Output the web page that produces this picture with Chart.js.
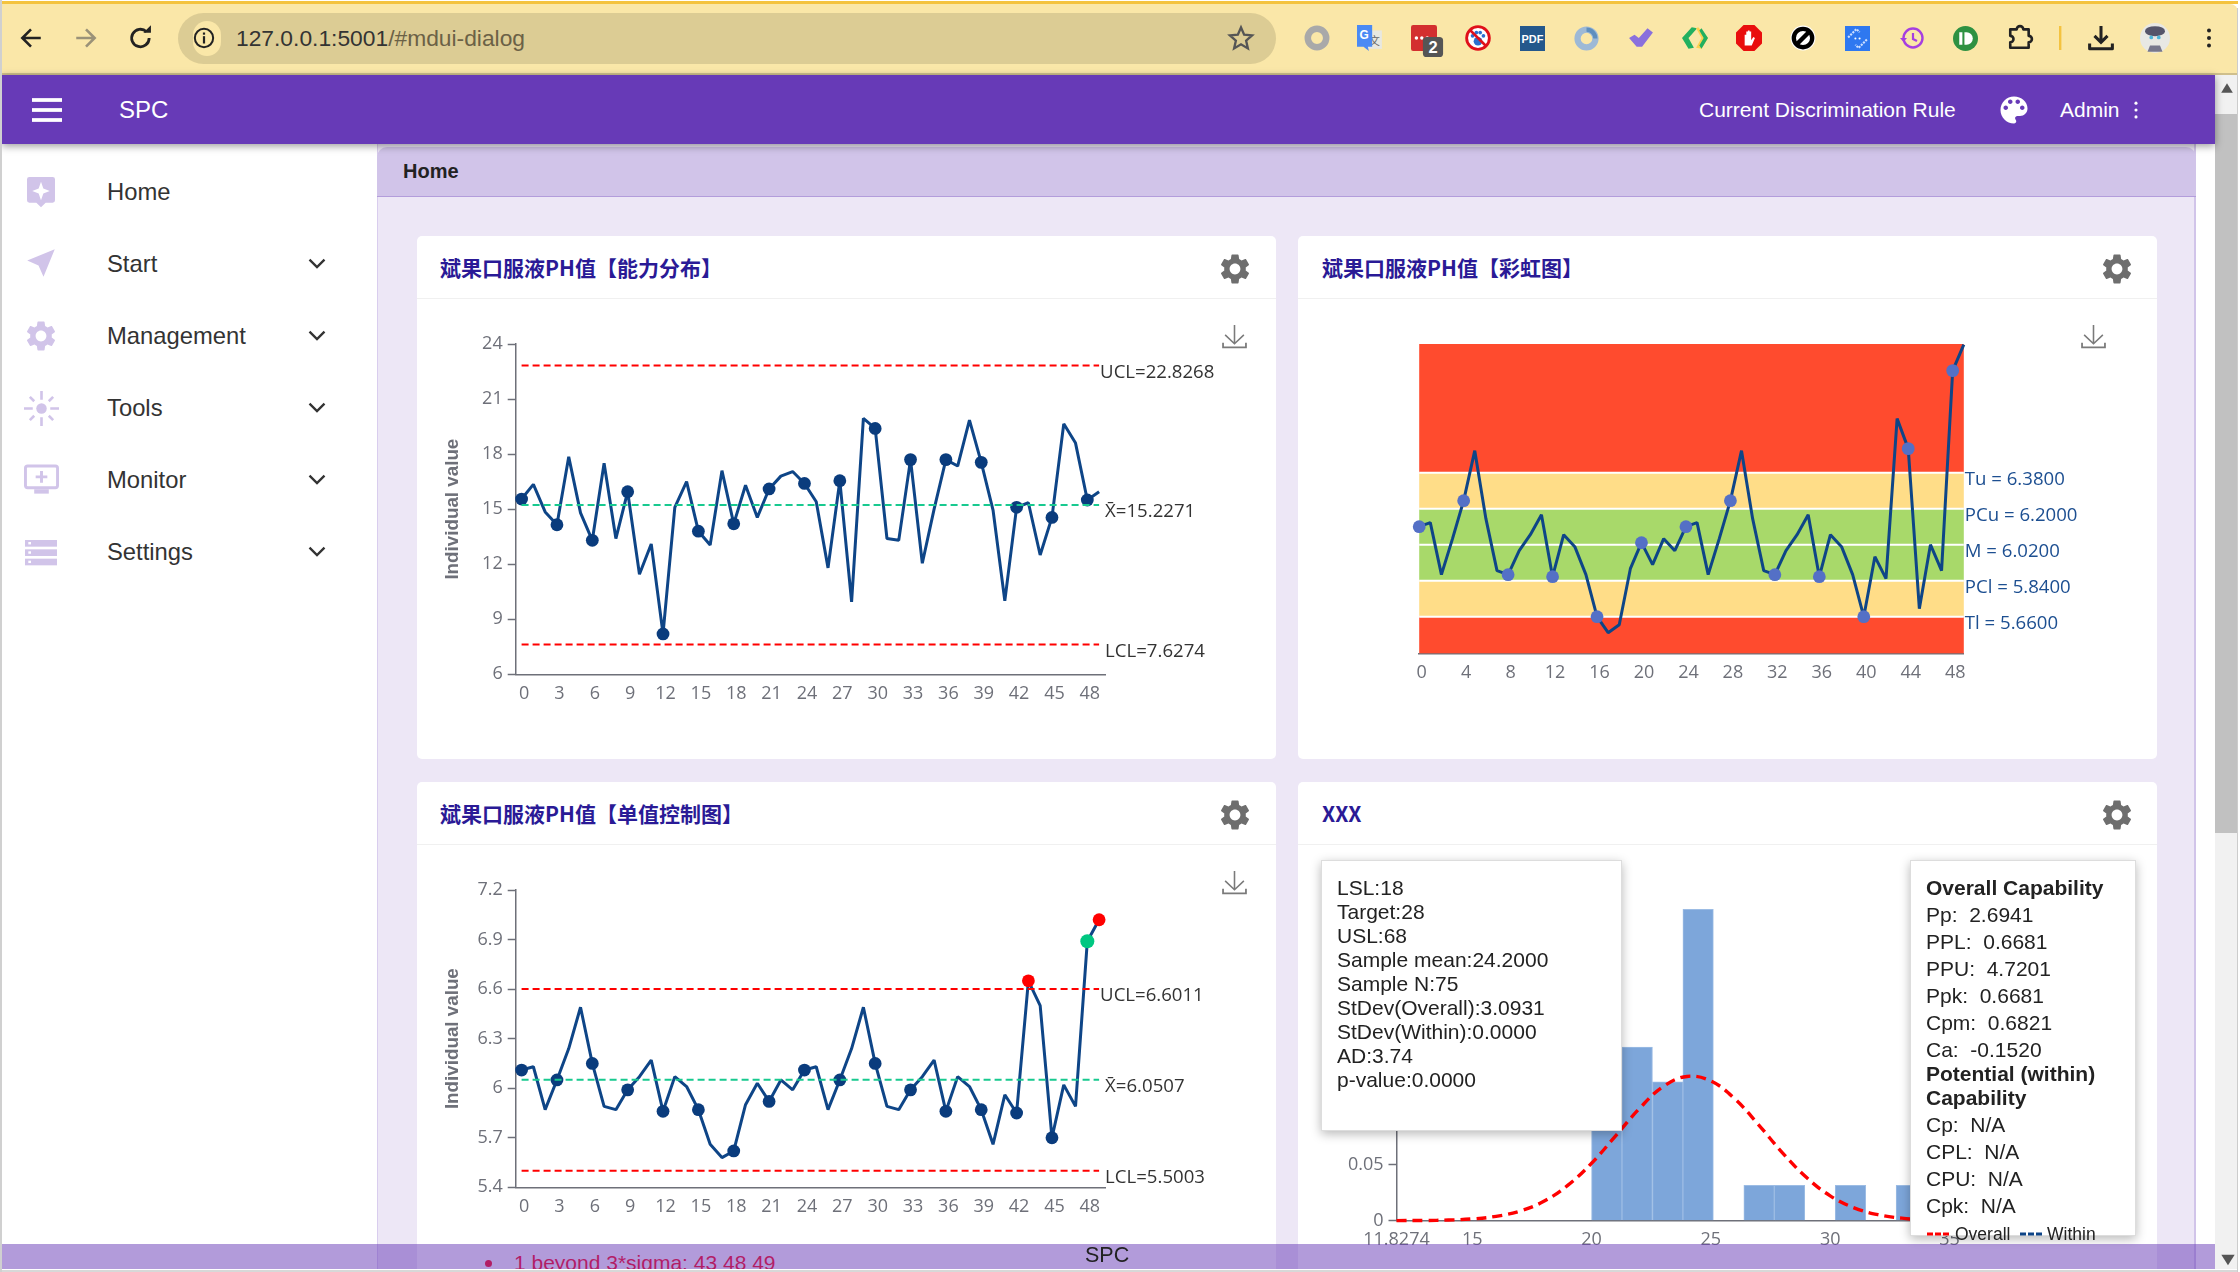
<!DOCTYPE html>
<html><head><meta charset="utf-8"><title>SPC</title>
<script src="https://cdn.jsdelivr.net/npm/chart.js@4"></script>
<style>
html,body{margin:0;padding:0;background:#fff;width:2240px;height:1272px;overflow:hidden;font-family:"Liberation Sans",Arial,sans-serif}
.abs,.abs *{box-sizing:border-box}
.abs{position:absolute}
#win{position:absolute;left:0;top:0;width:2240px;height:1269px;overflow:hidden;background:#fff}
#edgeL{position:absolute;left:0;top:0;width:2px;height:1272px;background:#d0d0d0;z-index:20}
#edgeB{position:absolute;left:0;top:1270px;width:2238px;height:2px;background:#d8d8d8}
#edgeR{position:absolute;left:2237px;top:8px;width:1px;height:1264px;background:#ccc;z-index:20}
#stripe{left:2px;top:1px;width:2236px;height:3px;background:#F4C33F}
#tool{left:2px;top:4px;width:2236px;height:69px;background:#FAE7A8;border-top-right-radius:8px}
#toolb{left:2px;top:73px;width:2236px;height:2px;background:#CFBF8C}
#addr{left:178px;top:13px;width:1098px;height:51px;border-radius:26px;background:#DCCC94}
#inf{left:193px;top:21px;width:28px;height:35px;border-radius:18px;background:#FAE7A8}
#url{left:236px;top:24px;font-size:22.8px;line-height:28px;color:#333;white-space:nowrap}
#url span{color:#6b6146}
#bar{left:2px;top:75px;width:2213px;height:69px;background:#673AB7;box-shadow:0 2px 8px rgba(0,0,0,.4);z-index:6;color:#fff}
.bt{position:absolute;top:20px;font-size:21px;line-height:30px;white-space:nowrap}
#side{left:2px;top:144px;width:375px;height:1125px;background:#fff}
.nv{position:absolute;left:105px;font-size:23.8px;line-height:30px;color:#333;white-space:nowrap}
#main{left:377px;top:144px;width:1819px;height:1125px;background:#EDE7F6;border-left:1px solid #D9CDEE;border-right:2px solid #D1C4E9}
#hd{left:377px;top:147px;width:1819px;height:50px;background:#D1C4E9;border-radius:10px 10px 0 0;border-bottom:1px solid #B39DDB}
#hd span{position:absolute;left:26px;top:11px;font-size:20px;line-height:26px;font-weight:bold;color:#222}
.card{background:#fff;border-radius:5px}
.ttl{position:absolute;left:23px;top:17px;font:bold 21px/28px "Noto Sans CJK SC","Liberation Sans",sans-serif;color:#2A1A96;white-space:nowrap}
.dvd{position:absolute;left:0;right:0;top:62px;height:1px;background:#f0f0f0}
canvas{position:absolute;display:block}
.panel{position:absolute;background:#fff;border:1px solid #ddd;box-shadow:0 3px 10px rgba(0,0,0,.28);z-index:3;color:#222;font-size:21px}
.panel div{position:absolute;white-space:nowrap;line-height:24px}
#foot{left:0;top:1244px;width:2215px;height:25px;background:rgba(103,58,183,.51);z-index:5}
#foot span{position:absolute;left:1085px;top:-2px;font-size:21.5px;line-height:26px;color:#222}
#sigma{left:514px;top:1250px;font-size:21px;line-height:26px;color:#FF0010;white-space:nowrap;z-index:2}
#bul{left:485px;top:1260px;width:7px;height:7px;border-radius:50%;background:#FF0010;z-index:2}
#track{left:2215px;top:75px;width:22px;height:1194px;background:#F1F1F1}
#thumb{left:2215px;top:114px;width:22px;height:719px;background:#C1C1C1}
.leg{position:absolute;top:1224px;height:20px;font-size:17.5px;line-height:20px;color:#222;white-space:nowrap;z-index:4}
svg.ic{position:absolute;overflow:visible}
</style></head>
<body>
<div id="win">
  <div class="abs" id="stripe"></div><div class="abs" id="tool"></div><div class="abs" id="toolb"></div>
  <div class="abs" id="addr"></div><div class="abs" id="inf"></div>
  <div class="abs" id="url">127.0.0.1:5001<span>/#mdui-dialog</span></div>

  <div class="abs" id="side">
    <div class="nv" style="top:33px">Home</div><div class="nv" style="top:105px">Start</div>
    <div class="nv" style="top:177px">Management</div><div class="nv" style="top:249px">Tools</div>
    <div class="nv" style="top:321px">Monitor</div><div class="nv" style="top:393px">Settings</div>
  </div>
  <div class="abs" id="main"></div>
  <div class="abs" id="hd"><span>Home</span></div>

  <div class="abs card" style="left:417px;top:236px;width:859px;height:523px"><div class="ttl">斌果口服液PH值【能力分布】</div><div class="dvd"></div></div>
  <div class="abs card" style="left:1298px;top:236px;width:859px;height:523px"><div class="ttl" style="left:24px">斌果口服液PH值【彩虹图】</div><div class="dvd"></div></div>
  <div class="abs card" style="left:417px;top:782px;width:859px;height:520px"><div class="ttl">斌果口服液PH值【单值控制图】</div><div class="dvd"></div></div>
  <div class="abs card" style="left:1298px;top:782px;width:859px;height:520px"><div class="ttl" style="left:24px">XXX</div><div class="dvd"></div></div>

  <canvas id="c1" width="800" height="400" style="left:430px;top:320px"></canvas>
  <canvas id="c2" width="720" height="380" style="left:1380px;top:320px"></canvas>
  <canvas id="c3" width="800" height="360" style="left:430px;top:866px"></canvas>
  <canvas id="c4" width="760" height="400" style="left:1300px;top:850px"></canvas>

  <div class="abs" id="bul"></div>
  <div class="abs" id="sigma">1 beyond 3*sigma: 43 48 49</div>

  <div class="panel" style="left:1321px;top:860px;width:299px;height:269px">
    <div style="left:15px;top:15px">LSL:18</div><div style="left:15px;top:39px">Target:28</div>
    <div style="left:15px;top:63px">USL:68</div><div style="left:15px;top:87px">Sample mean:24.2000</div>
    <div style="left:15px;top:111px">Sample N:75</div><div style="left:15px;top:135px">StDev(Overall):3.0931</div>
    <div style="left:15px;top:159px">StDev(Within):0.0000</div><div style="left:15px;top:183px">AD:3.74</div>
    <div style="left:15px;top:207px">p-value:0.0000</div>
  </div>
  <div class="panel" style="left:1910px;top:860px;width:224px;height:374px">
    <div style="left:15px;top:15px"><b>Overall Capability</b></div>
    <div style="left:15px;top:42px">Pp:&nbsp; 2.6941</div><div style="left:15px;top:69px">PPL:&nbsp; 0.6681</div>
    <div style="left:15px;top:96px">PPU:&nbsp; 4.7201</div><div style="left:15px;top:123px">Ppk:&nbsp; 0.6681</div>
    <div style="left:15px;top:150px">Cpm:&nbsp; 0.6821</div><div style="left:15px;top:177px">Ca:&nbsp; -0.1520</div>
    <div style="left:15px;top:201px"><b>Potential (within)</b></div><div style="left:15px;top:225px"><b>Capability</b></div>
    <div style="left:15px;top:252px">Cp:&nbsp; N/A</div><div style="left:15px;top:279px">CPL:&nbsp; N/A</div>
    <div style="left:15px;top:306px">CPU:&nbsp; N/A</div><div style="left:15px;top:333px">Cpk:&nbsp; N/A</div>
  </div>
  <div class="leg" style="left:1955px">Overall</div>
  <div class="leg" style="left:2047px">Within</div>
  <svg class="ic" style="left:1927px;top:1232px;z-index:4" width="116" height="4"><line x1="0" y1="2" x2="23" y2="2" stroke="#f00" stroke-width="3" stroke-dasharray="6 2"/><line x1="93" y1="2" x2="115" y2="2" stroke="#0E4587" stroke-width="3" stroke-dasharray="6 2"/></svg>

  <div class="abs" id="foot"><span>SPC</span></div>
  <div class="abs" id="track"></div><div class="abs" id="thumb"></div>

  <div class="abs" id="bar">
    <div class="bt" style="left:117px;font-size:24px">SPC</div>
    <div class="bt" style="left:1697px">Current Discrimination Rule</div>
    <div class="bt" style="left:2058px">Admin</div>
  </div>
  <div id="icons"></div>
</div>
<div id="edgeL"></div><div id="edgeB"></div><div id="edgeR"></div>

<script>
// ---------- chart data ----------
const categories = ['0','1','2','3','4','5','6','7','8','9','10','11','12','13','14','15','16','17','18','19','20','21','22','23','24','25','26','27','28','29','30','31','32','33','34','35','36','37','38','39','40','41','42','43','44','45','46','47','48','49'];

const capabilityValues = [15.55,16.35,14.85,14.15,17.85,14.8,13.3,17.5,13.4,15.95,11.45,13.1,8.2,15.1,16.5,13.8,13.05,17.1,14.2,16.3,14.55,16.1,16.8,17.05,16.4,15.4,11.8,16.55,9.95,19.95,19.4,13.4,13.3,17.7,12.05,15.0,17.7,17.35,19.85,17.55,14.95,10.0,15.1,15.35,12.5,14.55,19.65,18.6,15.5,15.95];
const capabilityLimits = {ucl:22.8268, mean:15.2271, lcl:7.6274};

const individualValues = [6.11,6.13,5.87,6.05,6.24,6.49,6.15,5.89,5.87,5.99,6.07,6.17,5.86,6.07,6.01,5.87,5.66,5.58,5.62,5.90,6.03,5.92,6.05,5.99,6.11,6.13,5.87,6.05,6.24,6.49,6.15,5.89,5.87,5.99,6.07,6.17,5.86,6.07,6.01,5.87,5.66,5.96,5.85,6.65,6.50,5.70,6.02,5.89,6.89,7.02];
const individualLimits = {ucl:6.6011, mean:6.0507, lcl:5.5003};
const alarmRed = [43,49];
const alarmGreen = [48];

const rainbowLimits = {Tl:5.66, PCl:5.84, M:6.02, PCu:6.2, Tu:6.38};
const rainbowLabels = ['Tu = 6.3800','PCu = 6.2000','M = 6.0200','PCl = 5.8400','Tl = 5.6600'];
const rainbowRange = [5.477,7.023];

const histCenters = [20.638,21.914,23.19,24.466,27.02,28.296,30.848,33.4];
const histDensity = [0.094,0.155,0.124,0.278,0.0315,0.0315,0.0315,0.0315];
const curveX = [11.8274,13,14,15,16,17,18,19,20,21,22,23,24,25,26,27,28,29,30,31,32,33,34,35,36,36.57];
const curveY = [0.0001,0.0002,0.0006,0.0016,0.0039,0.0086,0.0173,0.0315,0.0513,0.0755,0.100,0.1197,0.1288,0.1247,0.1089,0.0856,0.0606,0.0387,0.0222,0.0115,0.0054,0.00225,0.00085,0.0003,0.0001,0.00006];
const histTicks = [11.8274,15,20,25,30,35];

// ---------- style ----------
const NAVY='#0E4587', DOT='#0A3C7D', AX='#6E7079', RED='#FF0000', TEAL='#18C98F', TXT='#333333';
const LAB='18.6px "Open Sans"';
Chart.defaults.font.family='"Open Sans"';
Chart.defaults.animation=false;
Chart.defaults.devicePixelRatio=1;

function fit(canvasEl,plot){
  const r=canvasEl.getBoundingClientRect();
  return {
    pad:{left:0,top:plot.t-r.top,right:r.right-plot.r,bottom:0},
    yw:plot.l-r.left, xh:r.bottom-plot.b, leftPad:plot.l-r.left
  };
}
const xAxis=(f,every,labelOff)=>({
  type:'category',offset:true,
  afterFit:s=>{s.height=f.xh},
  border:{display:true,color:AX,width:1.5},
  grid:{display:true,drawOnChartArea:false,drawTicks:false},
  ticks:{autoSkip:false,maxRotation:0,minRotation:0,padding:9,labelOffset:labelOff,color:AX,font:{family:'"Open Sans"',size:18},
    callback(v,i){return i%every===0?this.getLabelForValue(v):''}}
});
const yAxis=(f,min,max,step)=>({
  min,max,
  afterFit:s=>{s.width=f.yw},
  afterBuildTicks:s=>{ const t=[]; const n=Math.round((max-min)/step); for(let i=0;i<=n;i++)t.push({value:+(min+i*step).toFixed(4)}); s.ticks=t; },
  border:{display:true,color:AX,width:1.5},
  grid:{display:true,drawOnChartArea:false,drawTicks:true,tickLength:8,tickColor:AX,tickWidth:1.5},
  ticks:{padding:5,color:AX,font:{family:'"Open Sans"',size:18},callback:v=>String(+(+v).toFixed(2))},
  title:{display:true,text:'Individual value',color:AX,font:{family:'"Liberation Sans"',size:18.8,weight:'bold'},padding:{top:12,bottom:0}}
});
const ref=(c,v)=>({type:'line',data:[{x:categories[0],y:v},{x:categories[49],y:v}],borderColor:c,borderWidth:2,borderDash:[7,4],pointRadius:0,fill:false,clip:false,tension:0});

const limitLabels={
  id:'limitLabels',
  afterDatasetsDraw(ch,a,o){
    const c=ch.ctx,x=ch.scales.x,y=ch.scales.y,xe=x.getPixelForValue(49);
    c.save();c.font=LAB;c.fillStyle=TXT;c.textBaseline='middle';c.textAlign='left';
    o.items.forEach(it=>{c.fillText(it.text,xe+(it.wide?6:1),y.getPixelForValue(it.value)+7)});
    c.restore();
  }
};

function spcChart(id,plot,vals,lim,yr,step,colorFn){
  const el=document.getElementById(id),f=fit(el,plot);
  new Chart(el,{
    type:'line',
    data:{labels:categories,datasets:[
      ref(RED,lim.ucl),ref(TEAL,lim.mean),ref(RED,lim.lcl),
      {data:vals,borderColor:NAVY,borderWidth:3,borderJoinStyle:'bevel',tension:0,clip:false,
       pointRadius:c=>id==='c3'&&alarmGreen.includes(c.dataIndex)?7:(c.dataIndex%3===0||alarmOf(id,c.dataIndex)?6.4:0),
       pointBorderWidth:0,pointBackgroundColor:c=>colorFn(c.dataIndex)}
    ]},
    plugins:[limitLabels],
    options:{responsive:false,animation:false,layout:{padding:f.pad},
      plugins:{legend:{display:false},tooltip:{enabled:false},
        limitLabels:{items:[{text:'UCL='+lim.ucl.toFixed(4),value:lim.ucl,wide:false},{text:'X\u0304='+lim.mean.toFixed(4),value:lim.mean,wide:true},{text:'LCL='+lim.lcl.toFixed(4),value:lim.lcl,wide:true}]}},
      scales:{x:xAxis(f,3,2.5),y:yAxis(f,yr[0],yr[1],step)}}
  });
}
const alarmOf=(id,i)=>id==='c3'&&(alarmRed.includes(i)||alarmGreen.includes(i));

spcChart('c1',{l:515.7,r:1105,t:344,b:674.3},capabilityValues,capabilityLimits,[6,24],3,()=>DOT);
spcChart('c3',{l:515.7,r:1105,t:890,b:1187.3},individualValues,individualLimits,[5.4,7.2],0.3,
  i=>alarmRed.includes(i)?'#FF0000':alarmGreen.includes(i)?'#00C781':DOT);

// rainbow chart
const bandPlugin={
  id:'bands',
  beforeDatasetsDraw(ch){
    const c=ch.ctx,y=ch.scales.y,a=ch.chartArea,L=rainbowLimits;
    const edges=[rainbowRange[1],L.Tu,L.PCu,L.PCl,L.Tl,rainbowRange[0]];
    const cols=['#FF4B2E','#FFDD88','#A8D96A','#FFDD88','#FF4B2E'];
    c.save();
    cols.forEach((col,i)=>{const t=y.getPixelForValue(edges[i]),b=y.getPixelForValue(edges[i+1]);c.fillStyle=col;c.fillRect(a.left,t,a.right-a.left,b-t)});
    c.strokeStyle='#fff';c.lineWidth=2;
    [L.Tu,L.PCu,L.M,L.PCl,L.Tl].forEach(v=>{const p=y.getPixelForValue(v);c.beginPath();c.moveTo(a.left,p);c.lineTo(a.right,p);c.stroke()});
    c.restore();
  },
  afterDatasetsDraw(ch){
    const c=ch.ctx,y=ch.scales.y,a=ch.chartArea,L=rainbowLimits;
    c.save();c.font=LAB;c.fillStyle='#1D4F91';c.textBaseline='middle';
    [L.Tu,L.PCu,L.M,L.PCl,L.Tl].forEach((v,i)=>c.fillText(rainbowLabels[i],a.right+1,y.getPixelForValue(v)+7));
    c.restore();
  }
};
(function(){
  const el=document.getElementById('c2'),plot={l:1419.2,r:1963.8,t:344,b:653.3},f=fit(el,plot);
  const xa=xAxis(f,4,2.5);xa.offset=false;
  new Chart(el,{type:'line',
    data:{labels:categories,datasets:[{data:individualValues,borderColor:NAVY,borderWidth:3,borderJoinStyle:'bevel',tension:0,clip:false,
      pointRadius:c=>c.dataIndex%4===0?6.4:0,pointBorderWidth:0,pointBackgroundColor:'#5470C6'}]},
    plugins:[bandPlugin],
    options:{responsive:false,animation:false,
      layout:{padding:{left:f.leftPad,top:f.pad.top,right:f.pad.right,bottom:0}},
      plugins:{legend:{display:false},tooltip:{enabled:false}},
      scales:{x:xa,y:{display:false,min:rainbowRange[0],max:rainbowRange[1]}}}
  });
})();

// histogram
(function(){
  const el=document.getElementById('c4'),plot={l:1396.5,r:1987,t:884.7,b:1220.7},f=fit(el,plot);
  new Chart(el,{type:'bar',
    data:{datasets:[
      {type:'line',data:curveX.map((x,i)=>({x,y:curveY[i]})),borderColor:'#FF0000',borderWidth:3.4,borderDash:[10,6],pointRadius:0,tension:0.4,clip:false,order:0},
      {type:'bar',data:histCenters.map((x,i)=>({x,y:histDensity[i]})),backgroundColor:'#7DA6DA',borderColor:'#9CBCE4',borderWidth:1,barPercentage:1,categoryPercentage:1,order:1}
    ]},
    options:{responsive:false,animation:false,layout:{padding:f.pad},
      plugins:{legend:{display:false},tooltip:{enabled:false}},
      scales:{
        x:{type:'linear',offset:false,min:histTicks[0],max:36.57,
          afterFit:s=>{s.height=f.xh},
          afterBuildTicks:s=>{s.ticks=histTicks.map(value=>({value}))},
          border:{display:true,color:AX,width:1.5},
          grid:{display:true,drawOnChartArea:false,drawTicks:false,offset:false},
          ticks:{autoSkip:false,maxRotation:0,minRotation:0,padding:8,color:AX,font:{family:'"Open Sans"',size:18},callback:v=>String(v)}},
        y:{min:0,max:0.3,
          afterFit:s=>{s.width=f.yw},
          afterBuildTicks:s=>{s.ticks=[0,0.05,0.1,0.15,0.2,0.25,0.3].map(value=>({value}))},
          border:{display:true,color:AX,width:1.5},
          grid:{display:true,drawOnChartArea:false,drawTicks:true,tickLength:8,tickColor:AX,tickWidth:1.5},
          ticks:{padding:5,color:AX,font:{family:'"Open Sans"',size:18},callback:v=>String(v)}}
      }}
  });
})();

// ---------- page chrome icons ----------
const GEAR='M19.14 12.94c.04-.3.06-.61.06-.94 0-.32-.02-.64-.07-.94l2.03-1.58c.18-.14.23-.41.12-.61l-1.92-3.32c-.12-.22-.37-.29-.59-.22l-2.39.96c-.5-.38-1.03-.7-1.62-.94l-.36-2.54c-.04-.24-.24-.41-.48-.41h-3.84c-.24 0-.43.17-.47.41l-.36 2.54c-.59.24-1.13.57-1.62.94l-2.39-.96c-.22-.08-.47 0-.59.22L2.74 8.87c-.12.21-.08.47.12.61l2.03 1.58c-.05.3-.09.63-.09.94s.02.64.07.94l-2.03 1.58c-.18.14-.23.41-.12.61l1.92 3.32c.12.22.37.29.59.22l2.39-.96c.5.38 1.03.7 1.62.94l.36 2.54c.05.24.24.41.48.41h3.84c.24 0 .44-.17.47-.41l.36-2.54c.59-.24 1.13-.56 1.62-.94l2.39.96c.22.08.47 0 .59-.22l1.92-3.32c.12-.22.07-.47-.12-.61l-2.01-1.58zM12 15.6c-1.98 0-3.6-1.62-3.6-3.6s1.62-3.6 3.6-3.6 3.6 1.62 3.6 3.6-1.62 3.6-3.6 3.6z';
const PALETTE='M12 3c-4.97 0-9 4.03-9 9s4.03 9 9 9c.83 0 1.5-.67 1.5-1.5 0-.39-.15-.74-.39-1.01-.23-.26-.38-.61-.38-.99 0-.83.67-1.5 1.5-1.5H16c2.76 0 5-2.24 5-5 0-4.42-4.03-8-9-8zm-5.5 9c-.83 0-1.5-.67-1.5-1.5S5.67 9 6.5 9 8 9.67 8 10.5 7.33 12 6.5 12zm3-4C8.67 8 8 7.33 8 6.5S8.67 5 9.5 5s1.5.67 1.5 1.5S10.33 8 9.5 8zm5 0c-.83 0-1.5-.67-1.5-1.5S13.67 5 14.5 5s1.5.67 1.5 1.5S15.33 8 14.5 8zm3 4c-.83 0-1.5-.67-1.5-1.5S16.67 9 17.5 9s1.5.67 1.5 1.5-.67 1.5-1.5 1.5z';
const dl='<path d="M12 1v18M3 10.5l9 8.5 9-8.5" fill="none" stroke="#7a7a7a" stroke-width="1.5"/><path d="M1 18v4.5h22V18" fill="none" stroke="#7a7a7a" stroke-width="1.7"/>';
const chev='<path d="M3 8l9 9 9-9" fill="none" stroke="#333" stroke-width="2.8"/>';
const L='#D1C4E9';
const icons=[
 // nav
 [31,38,26,'<path d="M21 12H5M12 4l-8 8 8 8" fill="none" stroke="#222" stroke-width="2.4"/>'],
 [86,38,26,'<path d="M3 12h16M12 4l8 8-8 8" fill="none" stroke="#9a9278" stroke-width="2.4"/>'],
 [141,38,28,'<path d="M19 12a7.5 7.5 0 1 1-2.3-5.4" fill="none" stroke="#222" stroke-width="2.4"/><path d="M14 7.5h6.5V1z" fill="#222"/>'],
 [204,38,22,'<circle cx="12" cy="12" r="10" fill="none" stroke="#222" stroke-width="2.2"/><rect x="10.8" y="10" width="2.4" height="8" fill="#222"/><rect x="10.8" y="6" width="2.4" height="2.4" fill="#222"/>'],
 [1241,38,28,'<path d="M12 3l2.7 6.2 6.8.6-5.1 4.5 1.5 6.6L12 17.4 6.1 20.9l1.5-6.6L2.5 9.8l6.8-.6z" fill="none" stroke="#555" stroke-width="2"/>'],
 // extensions
 [1316.7,38,26,'<circle cx="12" cy="12" r="8.5" fill="none" stroke="#A9A9A9" stroke-width="6"/>'],
 [1370,38,26,'<rect x="10" y="5" width="13" height="17" fill="#E8E8E0"/><text x="16" y="18" font-size="10" fill="#666" text-anchor="middle" font-family="Noto Sans CJK SC">文</text><path d="M0 0h14v20h-4l1 4-5-4H0z" fill="#4A8AF4"/><text x="6.5" y="13" font-size="11" font-weight="bold" fill="#fff" text-anchor="middle">G</text>'],
 [1424,38,26,'<rect x="0" y="0" width="24" height="24" rx="2" fill="#D32F2F"/><circle cx="5" cy="12" r="1.6" fill="#fff"/><circle cx="10" cy="12" r="1.6" fill="#fff"/><circle cx="15" cy="12" r="1.6" fill="#fff"/>'],
 [1433,47,22,'<rect x="1" y="1" width="22" height="22" rx="4" fill="#555"/><text x="12" y="19" font-size="18" font-weight="bold" fill="#fff" text-anchor="middle" font-family="Liberation Sans">2</text>'],
 [1478,38,26,'<circle cx="12" cy="12" r="10.5" fill="#fff" stroke="#E0101A" stroke-width="2.6"/><circle cx="12" cy="15" r="4" fill="#2A6FD0"/><circle cx="7" cy="10" r="1.7" fill="#2A6FD0"/><circle cx="10.5" cy="7" r="1.7" fill="#2A6FD0"/><circle cx="14" cy="7" r="1.7" fill="#2A6FD0"/><circle cx="17" cy="10" r="1.7" fill="#2A6FD0"/><path d="M4.5 4.5l15 15" stroke="#E0101A" stroke-width="2.6"/>'],
 [1532,38,25,'<rect width="24" height="24" fill="#24588C"/><text x="12" y="16.5" font-size="10.5" font-weight="bold" fill="#fff" text-anchor="middle" font-family="Liberation Sans">PDF</text>'],
 [1586.7,38,25,'<circle cx="12" cy="12" r="8.6" fill="none" stroke="#9DB9D6" stroke-width="6"/><path d="M12 3.5a8.5 8.5 0 0 1 8.5 8.5" fill="none" stroke="#5F8FBE" stroke-width="4"/>'],
 [1640.7,38,26,'<path d="M1 12l5-3 4 3L18 3l5 4-10 13h-5z" fill="#8A70DC"/>'],
 [1694.8,38,26,'<path d="M9 2l5 1-8 9 5 9-5 1-6-10z" fill="#22B060"/><path d="M15 2l9 10-6 10-5-1 5-9-5-9z" fill="#FFD050"/><path d="M18 3l6 9-6 10-2-3 4-7-4-7z" fill="#22B060"/>'],
 [1749,38,26,'<path d="M7 0h10l7 7v10l-7 7H7l-7-7V7z" fill="#E90E0E"/><path d="M8 18V9h1.5v4V6h1.5v7-8h1.5v8-7H14v8l2-3 1.5 1-3 7H8z" fill="#fff"/>'],
 [1803,38,26,'<circle cx="12" cy="12" r="11.5" fill="#fff"/><circle cx="12" cy="12" r="8.5" fill="none" stroke="#000" stroke-width="4"/><path d="M6 18L18 6" stroke="#000" stroke-width="4"/>'],
 [1857,38,25,'<rect width="24" height="24" fill="#2E78F0"/><path d="M3 11l8-8 3 3M21 13l-8 8-3-3" fill="none" stroke="#cfe0ff" stroke-width="2" stroke-dasharray="2 1"/><circle cx="10" cy="12" r="1" fill="#fff"/><circle cx="14" cy="12" r="1" fill="#fff"/>'],
 [1911.6,38,24,'<circle cx="13" cy="12" r="9.5" fill="none" stroke="#A63FE0" stroke-width="2.4"/><path d="M13 7v6l4 2" fill="none" stroke="#A63FE0" stroke-width="2.2"/><path d="M0 12h7l-3.5 4z" fill="#A63FE0"/>'],
 [1965.6,38,25,'<circle cx="12" cy="12" r="12" fill="#2E9142"/><rect x="6" y="6" width="3" height="12" fill="#fff"/><path d="M11 6h2a6 6 0 0 1 0 12h-2z" fill="#fff"/>'],
 [2020,38,26,'<path d="M3 4h6a3 3 0 0 1 6 0h5v6a3 3 0 0 1 0 6v5H3v-5a3 3 0 0 0 0-6z" fill="none" stroke="#222" stroke-width="2.4" stroke-linejoin="round"/>'],
 [2100.6,38,26,'<path d="M12 1v14M6 10l6 6 6-6" fill="none" stroke="#222" stroke-width="2.8"/><path d="M1.5 17v5h21v-5" fill="none" stroke="#222" stroke-width="2.8" stroke-linejoin="round"/>'],
 [2154.7,38,30,'<circle cx="12" cy="12" r="12" fill="#E8E8E4"/><ellipse cx="12" cy="6.5" rx="8" ry="4" fill="#55556A"/><circle cx="9" cy="11.5" r="1.5" fill="#4FB6D8"/><circle cx="15" cy="11.5" r="1.5" fill="#4FB6D8"/><path d="M8 18h8l2 5H6z" fill="#77778C"/>'],
 [2209,38,24,'<circle cx="12" cy="4.5" r="2" fill="#222"/><circle cx="12" cy="12" r="2" fill="#222"/><circle cx="12" cy="19.5" r="2" fill="#222"/>'],
 [2060,38,24,'<rect x="11" y="0" width="2.4" height="24" fill="#F4C33F"/>'],
 // top bar
 [46.5,110,30,'<rect x="0" y="2.5" width="24" height="3" fill="#fff"/><rect x="0" y="10.5" width="24" height="3" fill="#fff"/><rect x="0" y="18.5" width="24" height="3" fill="#fff"/>'],
 [2014,110,36,'<path d="'+PALETTE+'" fill="#fff"/>'],
 [2136,110,22,'<circle cx="12" cy="4.5" r="1.7" fill="#fff"/><circle cx="12" cy="12" r="1.7" fill="#fff"/><circle cx="12" cy="19.5" r="1.7" fill="#fff"/>'],
 // sidebar
 [41,191,28,'<path d="M2 0h20a2 2 0 0 1 2 2v18a2 2 0 0 1-2 2h-6l-4 4-4-4H2a2 2 0 0 1-2-2V2a2 2 0 0 1 2-2z" fill="'+L+'"/><path d="M12 4l2 5.8 5.5 2.2-5.5 2.2L12 20l-2-5.8L4.5 12l5.5-2.2z" fill="#fff"/>'],
 [41,263,30,'<path d="M23 1L1 10l9 4 4 9z" fill="'+L+'"/>'],
 [41,336,36,'<path d="'+GEAR+'" fill="'+L+'"/>'],
 [41,408,35,'<circle cx="12" cy="12" r="3.6" fill="'+L+'"/><path d="M12 0v6M12 18v6M0 12h6M18 12h6M4 4l3 3M17 17l3 3M20 4l-3 3M7 17l-3 3" stroke="'+L+'" stroke-width="1.8"/>'],
 [41,480,35,'<rect x="1" y="2" width="22" height="15" rx="1.5" fill="none" stroke="'+L+'" stroke-width="2"/><path d="M12 5.5v8M8 9.5h8" stroke="'+L+'" stroke-width="2"/><rect x="7" y="18" width="10" height="3" fill="'+L+'"/>'],
 [41,552,32,'<rect x="0" y="3" width="24" height="5" fill="'+L+'"/><rect x="0" y="10" width="24" height="5" fill="'+L+'"/><rect x="0" y="17" width="24" height="5" fill="'+L+'"/><rect x="2.5" y="4.5" width="2" height="1.8" fill="#fff"/><rect x="2.5" y="11.5" width="2" height="1.8" fill="#fff"/><rect x="2.5" y="18.5" width="2" height="1.8" fill="#fff"/>'],
 [317,263,20,chev],[317,335,20,chev],[317,407,20,chev],[317,479,20,chev],[317,551,20,chev],
 // card tools
 [1235,269,36,'<path d="'+GEAR+'" fill="#6E6E6E"/>'],[2117,269,36,'<path d="'+GEAR+'" fill="#6E6E6E"/>'],
 [1235,815,36,'<path d="'+GEAR+'" fill="#6E6E6E"/>'],[2117,815,36,'<path d="'+GEAR+'" fill="#6E6E6E"/>'],
 [1234.5,336,25,dl],[2093,336,25,dl],[1234.5,882,25,dl],
 // scrollbar arrows
 [2226.5,88,14,'<path d="M12 4l10 16H2z" fill="#555"/>'],[2227.5,1260,16,'<path d="M12 20L2 4h20z" fill="#555"/>']
];
document.getElementById('icons').innerHTML=icons.map(([cx,cy,s,body])=>
  `<svg class="ic" viewBox="0 0 24 24" width="${s}" height="${s}" style="left:${cx-s/2}px;top:${cy-s/2}px;z-index:8">${body}</svg>`).join('');
</script>
</body></html>
